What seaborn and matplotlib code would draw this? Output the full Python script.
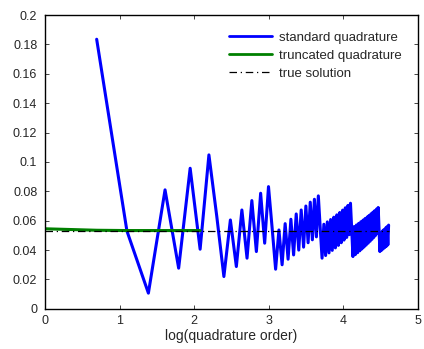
import matplotlib
matplotlib.use("Agg")
from matplotlib import pyplot as plt
import seaborn as sns
import pandas as pd
import numpy as np

# quadrature orders and errors
orders = list(range(2, 101))
standard = [
    0.1835, 0.0530, 0.0107, 0.0810, 0.0277, 0.0957, 0.0406, 0.1048,                          # 2-9
    0.0630, 0.0220, 0.0605, 0.0288, 0.0673, 0.0345, 0.0737, 0.0390, 0.0787, 0.0447, 0.0832,  # 10-20
    0.0550, 0.0270, 0.0537, 0.0300, 0.0580, 0.0338, 0.0610, 0.0367, 0.0646, 0.0400,          # 21-30
    0.0673, 0.0420, 0.0700, 0.0450, 0.0726, 0.0470, 0.0746, 0.0490, 0.0769, 0.0550,          # 31-40
    0.0345, 0.0576, 0.0363, 0.0592, 0.0381, 0.0608, 0.0398, 0.0624, 0.0415, 0.0640,          # 41-50
    0.0432, 0.0656, 0.0450, 0.0672, 0.0468, 0.0688, 0.0486, 0.0704, 0.0505, 0.0719,          # 51-60
    0.0540, 0.0356, 0.0560, 0.0369, 0.0571, 0.0382, 0.0582, 0.0395, 0.0593, 0.0408,          # 61-70
    0.0604, 0.0421, 0.0615, 0.0434, 0.0625, 0.0447, 0.0636, 0.0460, 0.0647, 0.0473,          # 71-80
    0.0658, 0.0486, 0.0668, 0.0500, 0.0679, 0.0515, 0.0690, 0.0540, 0.0390, 0.0520,          # 81-90
    0.0399, 0.0530, 0.0408, 0.0540, 0.0417, 0.0550, 0.0426, 0.0560, 0.0435, 0.0570,          # 91-100
]
trunc_orders = [1, 2, 3, 4, 5, 6, 7, 8]
truncated = [0.0545, 0.0535, 0.0533, 0.0533, 0.0533, 0.0533, 0.0533, 0.0533]
true_orders = [1, 100]
true_value = [0.0533, 0.0533]

df_std = pd.DataFrame({'x': np.log(orders), 'y': standard})
df_tr = pd.DataFrame({'x': np.log(trunc_orders), 'y': truncated})
df_true = pd.DataFrame({'x': np.log(true_orders), 'y': true_value})

sns.set_style('white')
plt.rcParams['font.family'] = ['Liberation Sans', 'DejaVu Sans']

fig = plt.figure(figsize=(4.24, 3.49), dpi=100)
ax = fig.add_axes([0.106, 0.115, 0.880, 0.842])

sns.lineplot(data=df_std, x='x', y='y', ax=ax, color=(0, 0, 1), lw=2.2,
             sort=False, estimator=None, label='standard quadrature')
sns.lineplot(data=df_tr, x='x', y='y', ax=ax, color=(0, 0.5, 0), lw=2.2,
             sort=False, estimator=None, label='truncated quadrature')
sns.lineplot(data=df_true, x='x', y='y', ax=ax, color='black', lw=0.9,
             sort=False, estimator=None, label='true solution')
ax.lines[2].set_dashes([6, 3, 1, 3])

ax.set_xlim(0, 5)
ax.set_ylim(0, 0.2)
ax.set_xticks([0, 1, 2, 3, 4, 5])
ax.set_yticks(np.arange(0, 0.201, 0.02))
ax.set_yticklabels(['0', '0.02', '0.04', '0.06', '0.08', '0.1', '0.12',
                    '0.14', '0.16', '0.18', '0.2'])
ax.tick_params(direction='in', length=3, width=0.6, labelsize=9,
               top=True, right=True, bottom=True, left=True)
ax.tick_params(axis='x', pad=4.5)
ax.tick_params(axis='y', pad=5.5)
for s in ax.spines.values():
    s.set_color('black')
    s.set_linewidth(1.0)
ax.set_xlabel('log(quadrature order)', fontsize=10, labelpad=1.5)
ax.set_ylabel('')

leg = ax.legend(loc='upper right', frameon=False, fontsize=9.5,
                handlelength=3.3, handletextpad=0.5, labelspacing=0.45,
                borderaxespad=0.85)
for h in leg.get_lines():
    h.set_linewidth(2)
leg.get_lines()[2].set_linewidth(0.9)

fig.savefig('out.png', dpi=100)
